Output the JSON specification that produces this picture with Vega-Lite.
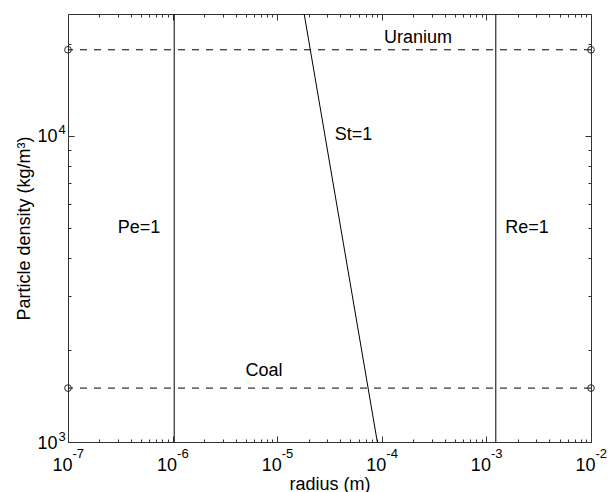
{
  "$schema": "https://vega.github.io/schema/vega-lite/v6.json",
  "width": 523,
  "height": 428,
  "autosize": {"type": "none"},
  "padding": {"left": 68, "top": 14, "right": 18, "bottom": 50},
  "background": "white",
  "config": {
    "view": {"stroke": "#333333", "strokeWidth": 1},
    "axis": {"grid": false, "domain": false, "tickColor": "#333333", "labelColor": "black", "labelFont": "Liberation Sans", "titleFont": "Liberation Sans", "titleColor": "black", "titleFontWeight": "normal", "labelFlush": false, "labelOverlap": false, "labelBound": false},
    "text": {"font": "Liberation Sans"}
  },
  "datasets": {
    "st": [
      {"r": 1.812e-5, "rho": 25000},
      {"r": 9.06e-5, "rho": 1000}
    ],
    "vlines": [
      {"r": 1.036e-6, "name": "Pe=1"},
      {"r": 1.23e-3, "name": "Re=1"}
    ],
    "hlines": [
      {"rho": 19100, "material": "Uranium"},
      {"rho": 1500, "material": "Coal"}
    ],
    "circles": [
      {"r": 1e-7, "rho": 19100},
      {"r": 1e-7, "rho": 1500},
      {"r": 1e-2, "rho": 19100},
      {"r": 1e-2, "rho": 1500}
    ],
    "labels": [
      {"r": 2.22e-4, "rho": 20900, "label": "Uranium"},
      {"r": 7.48e-6, "rho": 1700, "label": "Coal"},
      {"r": 5.36e-5, "rho": 10040, "label": "St=1"},
      {"r": 4.78e-7, "rho": 5000, "label": "Pe=1"},
      {"r": 2.44e-3, "rho": 5000, "label": "Re=1"}
    ],
    "none": []
  },
  "resolve": {"axis": {"x": "independent", "y": "independent"}},
  "layer": [
    {
      "data": {"name": "st"},
      "mark": {"type": "line", "color": "black", "strokeWidth": 1},
      "encoding": {
        "x": {"field": "r", "type": "quantitative", "scale": {"type": "log", "domain": [1e-7, 1e-2], "nice": false}, "axis": null},
        "y": {"field": "rho", "type": "quantitative", "scale": {"type": "log", "domain": [1000, 25000], "nice": false}, "axis": null}
      }
    },
    {
      "data": {"name": "vlines"},
      "mark": {"type": "rule", "color": "black", "strokeWidth": 1},
      "encoding": {
        "x": {"field": "r", "type": "quantitative", "axis": null}
      }
    },
    {
      "data": {"name": "hlines"},
      "mark": {"type": "rule", "color": "black", "strokeWidth": 1, "strokeDash": [7, 7]},
      "encoding": {
        "y": {"field": "rho", "type": "quantitative", "axis": null}
      }
    },
    {
      "data": {"name": "circles"},
      "mark": {"type": "point", "shape": "circle", "filled": false, "size": 45, "stroke": "#222222", "strokeWidth": 1, "opacity": 1},
      "encoding": {
        "x": {"field": "r", "type": "quantitative", "axis": null},
        "y": {"field": "rho", "type": "quantitative", "axis": null}
      }
    },
    {
      "data": {"name": "labels"},
      "mark": {"type": "text", "fontSize": 18, "color": "black", "align": "center", "baseline": "middle"},
      "encoding": {
        "x": {"field": "r", "type": "quantitative", "axis": null},
        "y": {"field": "rho", "type": "quantitative", "axis": null},
        "text": {"field": "label", "type": "nominal"}
      }
    },
    {
      "data": {"name": "none"},
      "mark": {"type": "point", "opacity": 0},
      "encoding": {
        "x": {"field": "r", "type": "quantitative", "axis": {
          "orient": "bottom", "values": [1e-7, 1e-6, 1e-5, 1e-4, 1e-3, 1e-2], "labelExpr": "'10'", "ticks": false,
          "labelAlign": "right", "labelOffset": 4, "labelBaseline": "alphabetic", "labelPadding": 28, "labelFontSize": 18,
          "title": "radius (m)", "titleFontSize": 18, "titleX": 261.5, "titleY": 47, "titleAlign": "center", "titleBaseline": "alphabetic"
        }},
        "y": {"field": "rho", "type": "quantitative", "axis": {
          "orient": "left", "values": [1000, 10000], "labelExpr": "'10'", "ticks": false,
          "labelAlign": "right", "labelBaseline": "middle", "labelPadding": 11, "labelOffset": 1, "labelFontSize": 18,
          "title": "Particle density (kg/m³)", "titleFontSize": 18, "titleX": -39, "titleY": 214, "titleAngle": 270, "titleAlign": "center", "titleBaseline": "alphabetic"
        }}
      }
    },
    {
      "data": {"name": "none"},
      "mark": {"type": "point", "opacity": 0},
      "encoding": {
        "x": {"field": "r", "type": "quantitative", "axis": {
          "orient": "bottom", "values": [1e-7, 1e-6, 1e-5, 1e-4, 1e-3, 1e-2], "labelExpr": "'' + round(log(datum.value) / LN10)", "ticks": false,
          "labelAlign": "left", "labelOffset": 4, "labelBaseline": "alphabetic", "labelPadding": 15, "labelFontSize": 13, "title": null
        }},
        "y": {"field": "rho", "type": "quantitative", "axis": {
          "orient": "left", "values": [1000, 10000], "labelExpr": "'' + round(log(datum.value) / LN10)", "ticks": false,
          "labelAlign": "left", "labelBaseline": "middle", "labelPadding": 10, "labelOffset": -6, "labelFontSize": 13, "title": null
        }}
      }
    },
    {
      "data": {"name": "none"},
      "mark": {"type": "point", "opacity": 0},
      "encoding": {
        "x": {"field": "r", "type": "quantitative", "axis": {
          "orient": "bottom", "values": [1e-7, 1e-6, 1e-5, 1e-4, 1e-3, 1e-2], "labels": false, "tickSize": -6, "title": null
        }},
        "y": {"field": "rho", "type": "quantitative", "axis": {
          "orient": "left", "values": [1000, 10000], "labels": false, "tickSize": -6, "title": null
        }}
      }
    },
    {
      "data": {"name": "none"},
      "mark": {"type": "point", "opacity": 0},
      "encoding": {
        "x": {"field": "r", "type": "quantitative", "axis": {
          "orient": "bottom", "values": [2e-7, 3e-7, 4e-7, 5e-7, 6e-7, 7e-7, 8e-7, 9e-7, 2e-6, 3e-6, 4e-6, 5e-6, 6e-6, 7e-6, 8e-6, 9e-6, 2e-5, 3e-5, 4e-5, 5e-5, 6e-5, 7e-5, 8e-5, 9e-5, 2e-4, 3e-4, 4e-4, 5e-4, 6e-4, 7e-4, 8e-4, 9e-4, 2e-3, 3e-3, 4e-3, 5e-3, 6e-3, 7e-3, 8e-3, 9e-3], "labels": false, "tickSize": -3, "title": null
        }},
        "y": {"field": "rho", "type": "quantitative", "axis": {
          "orient": "left", "values": [2000, 3000, 4000, 5000, 6000, 7000, 8000, 9000, 20000], "labels": false, "tickSize": -3, "title": null
        }}
      }
    },
    {
      "data": {"name": "none"},
      "mark": {"type": "point", "opacity": 0},
      "encoding": {
        "x": {"field": "r", "type": "quantitative", "axis": {
          "orient": "top", "values": [1e-7, 1e-6, 1e-5, 1e-4, 1e-3, 1e-2], "labels": false, "tickSize": -6, "title": null
        }},
        "y": {"field": "rho", "type": "quantitative", "axis": {
          "orient": "right", "values": [1000, 10000], "labels": false, "tickSize": -6, "title": null
        }}
      }
    },
    {
      "data": {"name": "none"},
      "mark": {"type": "point", "opacity": 0},
      "encoding": {
        "x": {"field": "r", "type": "quantitative", "axis": {
          "orient": "top", "values": [2e-7, 3e-7, 4e-7, 5e-7, 6e-7, 7e-7, 8e-7, 9e-7, 2e-6, 3e-6, 4e-6, 5e-6, 6e-6, 7e-6, 8e-6, 9e-6, 2e-5, 3e-5, 4e-5, 5e-5, 6e-5, 7e-5, 8e-5, 9e-5, 2e-4, 3e-4, 4e-4, 5e-4, 6e-4, 7e-4, 8e-4, 9e-4, 2e-3, 3e-3, 4e-3, 5e-3, 6e-3, 7e-3, 8e-3, 9e-3], "labels": false, "tickSize": -3, "title": null
        }},
        "y": {"field": "rho", "type": "quantitative", "axis": {
          "orient": "right", "values": [2000, 3000, 4000, 5000, 6000, 7000, 8000, 9000, 20000], "labels": false, "tickSize": -3, "title": null
        }}
      }
    }
  ]
}
